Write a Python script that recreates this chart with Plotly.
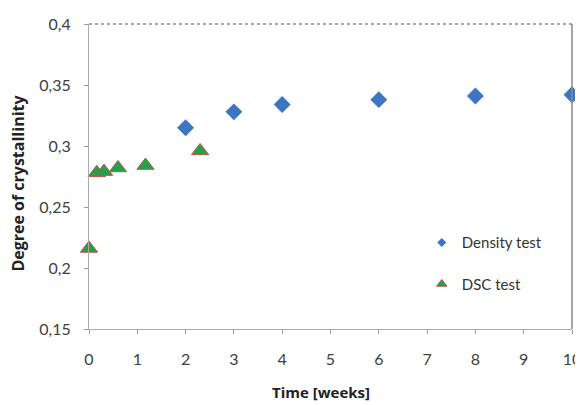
import plotly.graph_objects as go

density_weeks = [2, 3, 4, 6, 8, 10]
density_values = [0.315, 0.328, 0.334, 0.338, 0.341, 0.342]

dsc_weeks = [0, 0.16, 0.31, 0.6, 1.17, 2.3]
dsc_values = [0.216, 0.278, 0.279, 0.282, 0.284, 0.296]

y_ticks = [0.15, 0.2, 0.25, 0.3, 0.35, 0.4]
y_tick_labels = ["0,15", "0,2", "0,25", "0,3", "0,35", "0,4"]
x_ticks = list(range(0, 11))

FONT = "Lato, Open Sans, sans-serif"
TFONT = "Open Sans, sans-serif"
TXT = "#404040"
BLUE = "#3E75C2"
GREEN = "#1FA34A"
RED = "#C0504D"

fig = go.Figure()
fig.add_trace(go.Scatter(
    x=density_weeks, y=density_values, mode="markers", name="Density test",
    showlegend=False, cliponaxis=False,
    marker=dict(symbol="diamond", size=13, color=BLUE, line=dict(width=0)),
))
fig.add_trace(go.Scatter(
    x=dsc_weeks, y=dsc_values, mode="markers", name="DSC test",
    showlegend=False, cliponaxis=False,
    marker=dict(symbol="triangle-up", size=15, color=GREEN,
                line=dict(width=1, color=RED)),
))
# legend entries with small markers
fig.add_trace(go.Scatter(
    x=[None], y=[None], mode="markers", name="Density test", legendgroup="a",
    marker=dict(symbol="diamond", size=7, color=BLUE, line=dict(width=0)),
))
fig.add_trace(go.Scatter(
    x=[None], y=[None], mode="markers", name="DSC test", legendgroup="b",
    marker=dict(symbol="triangle-up", size=9, color=GREEN,
                line=dict(width=1, color=RED)),
))

# page body has an 8px margin, so the figure is drawn 8px in from the corner
fig.update_layout(
    width=575, height=397,
    margin=dict(l=81, r=11, t=16, b=76, autoexpand=False),
    paper_bgcolor="white", plot_bgcolor="white",
    font=dict(family=FONT, size=16, color=TXT),
    legend=dict(x=0.689, y=0.337, xanchor="left", yanchor="top",
                bgcolor="rgba(0,0,0,0)", tracegroupgap=19,
                font=dict(family=FONT, size=15, color="#333333"), itemwidth=30),
    showlegend=True,
)
fig.update_xaxes(
    range=[0, 10], tickvals=x_ticks, ticks="outside", ticklen=4,
    tickcolor="#999999", showline=True, linecolor="#aaaaaa", linewidth=1,
    showgrid=False, zeroline=False, automargin=False, ticklabelstandoff=12,
    tickfont=dict(size=16, color=TXT),
)
fig.update_yaxes(
    range=[0.15, 0.4], tickvals=y_ticks, ticktext=y_tick_labels,
    ticks="outside", ticklen=4, tickcolor="#999999",
    showline=True, linecolor="#aaaaaa", linewidth=1,
    showgrid=False, zeroline=False, automargin=False, ticklabelstandoff=10,
    tickfont=dict(size=16, color=TXT),
)
# axis titles
fig.add_annotation(text="<b>Time [weeks]</b>", xref="paper", yref="paper",
                   x=0.48, y=-0.208, yanchor="middle", xanchor="center", showarrow=False,
                   font=dict(family=TFONT, size=15, color="#222222"))
fig.add_annotation(text="<b>Degree of crystallinity</b>", xref="paper", yref="paper",
                   x=-0.147, y=0.48, xanchor="center", yanchor="middle", showarrow=False,
                   textangle=-90, font=dict(family=TFONT, size=16, color="#222222"))
# box edges (top and right)
fig.add_shape(type="line", xref="paper", yref="paper", x0=0, x1=1, y0=1, y1=1,
              line=dict(color="#888888", width=1.5, dash="dot"))
fig.add_shape(type="line", xref="paper", yref="paper", x0=1, x1=1, y0=0, y1=1,
              line=dict(color="#888888", width=1.5))

fig.write_html("out.html")
